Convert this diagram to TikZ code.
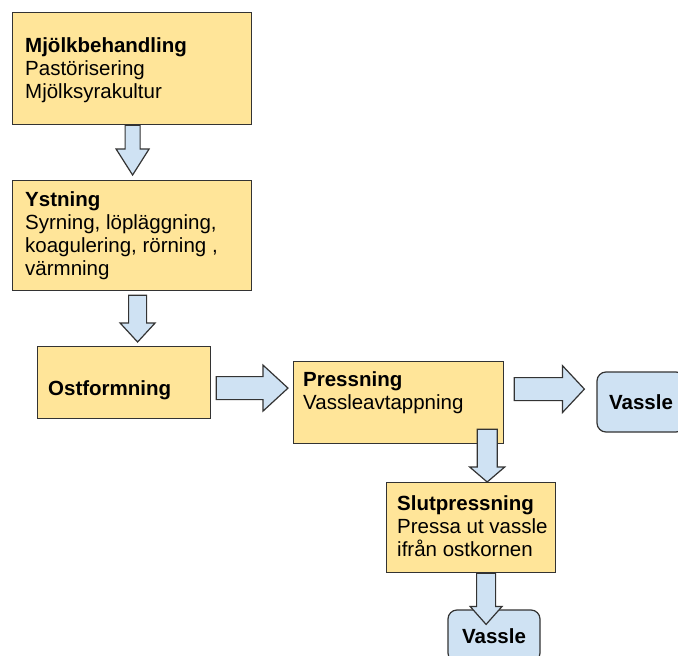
\documentclass[tikz,border=0pt]{standalone}
\usepackage{fontspec}
\setmainfont{Liberation Sans}
\usetikzlibrary{calc}
\definecolor{boxyellow}{HTML}{FFE599}
\definecolor{boxblue}{HTML}{CFE2F3}
\definecolor{edgegray}{HTML}{333333}
\newcommand{\txtlines}[1]{\vtop{\baselineskip=23pt\lineskiplimit=-20pt\lineskip=0pt\halign{##\hfil\cr#1\crcr}}}
\newcommand{\downblock}[5]{\draw[blockarrow] let \p1=(#1), \p2=(#2) in
  (\x1-#3pt,\y1) -- (\x1-#3pt,\y2+#5pt) -- (\x1-#4pt,\y2+#5pt) -- (\x1,\y2)
  -- (\x1+#4pt,\y2+#5pt) -- (\x1+#3pt,\y2+#5pt) -- (\x1+#3pt,\y1) -- cycle;}
\newcommand{\rightblock}[5]{\draw[blockarrow] let \p1=(#1), \p2=(#2) in
  (\x1,\y1+#3pt) -- (\x2-#5pt,\y1+#3pt) -- (\x2-#5pt,\y1+#4pt) -- (\x2,\y1)
  -- (\x2-#5pt,\y1-#4pt) -- (\x2-#5pt,\y1-#3pt) -- (\x1,\y1-#3pt) -- cycle;}
\tikzset{
  every node/.style={font=\fontsize{20.5}{23}\selectfont},
  procbox/.style={draw=edgegray, fill=boxyellow, line width=1.2pt, rectangle, inner sep=0pt, anchor=north west},
  endbox/.style={draw=edgegray, fill=boxblue, line width=1.2pt, rectangle, rounded corners=9pt, inner sep=0pt, font=\fontsize{20.5}{23}\selectfont\bfseries},
  boxtext/.style={anchor=base west, inner sep=0pt, text=black},
  blockarrow/.style={draw=edgegray, fill=boxblue, line width=1.2pt, line join=miter}
}
\begin{document}
\begin{tikzpicture}[x=1pt,y=-1pt]
\useasboundingbox (0,0) rectangle (678,656);
\clip (0,0) rectangle (678,656);
\fill[white] (0,0) rectangle (678,656);
% boxes
\node[procbox, minimum width=239pt, minimum height=112pt] (mjolk) at (12,12) {};
\node[procbox, minimum width=239pt, minimum height=110pt] (ystning) at (12,180) {};
\node[procbox, minimum width=173pt, minimum height=72pt] (ostform) at (37,346) {};
\node[procbox, minimum width=210pt, minimum height=82pt] (press) at (293,361) {};
\node[procbox, minimum width=169pt, minimum height=90pt] (slut) at (386,482) {};
\node[endbox, minimum width=88pt, minimum height=60pt] (vassleR) at (641,402) {Vassle};
\node[endbox, minimum width=92pt, minimum height=52pt] (vassleB) at (494,636) {Vassle};
% texts
\node[boxtext] (mjolkT) at (25,52.5) {\txtlines{\bfseries Mjölkbehandling\cr Pastörisering\cr Mjölksyrakultur}};
\node[boxtext] (ystningT) at (25,206) {\txtlines{\bfseries Ystning\cr Syrning, löpläggning,\cr koagulering, rörning ,\cr värmning}};
\node[boxtext] (ostformT) at (48,395) {\bfseries Ostformning};
\node[boxtext] (pressT) at (303,386) {\txtlines{\bfseries Pressning\cr Vassleavtappning}};
\node[boxtext] (slutT) at (397,510) {\txtlines{\bfseries Slutpressning\cr Pressa ut vassle\cr ifrån ostkornen}};
% connectors
\downblock{$(mjolk.south)+(0.5,0)$}{$(ystning.north)+(0,-5)$}{7.5}{16.5}{26}
\downblock{$(ystning.south)+(5.5,4)$}{$(ostform.north)+(0,-4)$}{9}{17.5}{19}
\rightblock{$(ostform.east)+(5,5.5)$}{$(press.west)+(-5,0)$}{11.5}{23}{25}
\rightblock{$(press.east)+(10,-13.5)$}{$(vassleR.west)+(-12,0)$}{11.5}{23.5}{22}
\downblock{$(press.south east)+(-17,-15)$}{slut.north}{10}{17.5}{15}
\downblock{$(slut.south)+(15,0)$}{$(vassleB.north)+(0,15)$}{9.5}{16}{18}
\end{tikzpicture}
\end{document}
